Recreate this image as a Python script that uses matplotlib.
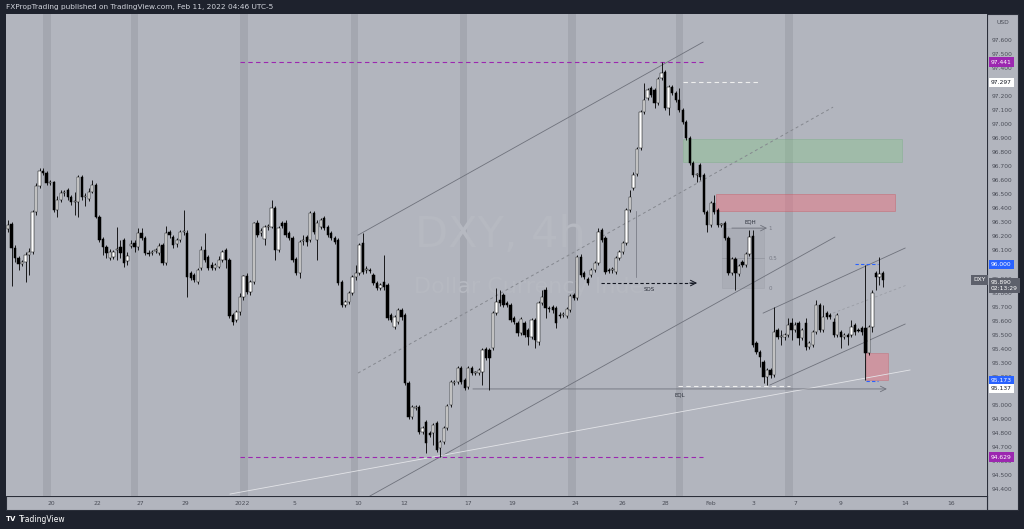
import matplotlib
matplotlib.use("Agg")
import matplotlib.pyplot as plt
import matplotlib.transforms as mtransforms
from matplotlib.patches import Rectangle
import numpy as np

# DXY 4h candles (oldest first)
opens = [96.252, 96.288, 96.117, 96.046, 96.003, 96.017, 96.067, 96.088, 96.373, 96.558,
         96.665, 96.651, 96.580, 96.587, 96.387, 96.459, 96.508, 96.530, 96.480, 96.444,
         96.444, 96.622, 96.480, 96.466, 96.516, 96.565, 96.338, 96.181, 96.124, 96.046,
         96.053, 96.103, 96.124, 96.174, 96.024, 96.131, 96.153, 96.124, 96.224, 96.188,
         96.081, 96.081, 96.096, 96.081, 96.138, 96.010, 96.231, 96.195, 96.145, 96.174,
         96.231, 96.224, 95.939, 95.925, 95.875, 95.975, 96.103, 96.053, 95.996, 95.975,
         95.982, 96.032, 96.103, 96.032, 95.640, 95.605, 95.662, 95.768, 95.918, 95.804,
         95.875, 96.295, 96.224, 96.181, 96.266, 96.266, 96.402, 96.103, 96.295, 96.295,
         96.224, 96.188, 96.039, 95.939, 96.167, 96.195, 96.174, 96.366, 96.174, 96.266,
         96.330, 96.266, 96.224, 96.188, 96.174, 95.875, 95.711, 95.733, 95.797, 95.911,
         95.939, 96.153, 95.960, 95.960, 95.925, 95.868, 95.832, 95.875, 95.854, 95.640,
         95.555, 95.590, 95.676, 95.640, 95.156, 94.914, 94.978, 94.985, 94.808, 94.879,
         94.800, 94.800, 94.872, 94.694, 94.736, 94.836, 95.000, 95.156, 95.163, 95.263,
         95.178, 95.128, 95.263, 95.227, 95.227, 95.234, 95.398, 95.391, 95.405, 95.654,
         95.747, 95.783, 95.726, 95.711, 95.619, 95.583, 95.512, 95.583, 95.533, 95.484,
         95.605, 95.448, 95.726, 95.818, 95.690, 95.697, 95.690, 95.640, 95.640, 95.633,
         95.676, 95.783, 95.761, 96.053, 95.939, 95.896, 95.925, 95.960, 96.010, 96.245,
         96.188, 95.960, 95.960, 95.946, 96.046, 96.088, 96.153, 96.387, 96.544, 96.644,
         96.829, 97.085, 97.184, 97.256, 97.241, 97.149, 97.327, 97.370, 97.113, 97.263,
         97.220, 97.170, 97.099, 97.014, 96.900, 96.722, 96.637, 96.708, 96.637, 96.373,
         96.281, 96.437, 96.387, 96.281, 96.295, 96.188, 95.939, 96.039, 95.932, 96.017,
         95.996, 96.074, 96.202, 95.441, 95.377, 95.306, 95.199, 95.249, 95.213, 95.533,
         95.484, 95.484, 95.498, 95.583, 95.533, 95.583, 95.477, 95.583, 95.413, 95.427,
         95.519, 95.711, 95.533, 95.654, 95.640, 95.590, 95.498, 95.519, 95.484, 95.498,
         95.498, 95.569, 95.533, 95.548, 95.548, 95.370, 95.555, 95.939, 95.911, 95.939]
highs = [96.316, 96.302, 96.138, 96.060, 96.032, 96.088, 96.117, 96.387, 96.580, 96.686,
         96.686, 96.665, 96.601, 96.594, 96.487, 96.530, 96.530, 96.544, 96.494, 96.516,
         96.637, 96.637, 96.508, 96.544, 96.601, 96.580, 96.352, 96.195, 96.138, 96.110,
         96.103, 96.266, 96.174, 96.188, 96.088, 96.174, 96.174, 96.259, 96.259, 96.202,
         96.103, 96.103, 96.117, 96.153, 96.153, 96.274, 96.245, 96.209, 96.188, 96.245,
         96.387, 96.245, 95.953, 95.939, 95.975, 96.131, 96.224, 96.067, 96.017, 96.010,
         96.060, 96.103, 96.117, 96.046, 95.654, 95.676, 95.797, 95.925, 95.939, 95.889,
         96.302, 96.316, 96.259, 96.281, 96.288, 96.459, 96.416, 96.274, 96.309, 96.316,
         96.238, 96.202, 96.053, 96.174, 96.209, 96.209, 96.380, 96.380, 96.316, 96.330,
         96.345, 96.281, 96.238, 96.202, 96.188, 95.889, 95.747, 95.811, 95.925, 95.996,
         96.153, 96.224, 95.989, 95.975, 95.939, 95.882, 95.868, 96.067, 95.868, 95.654,
         95.640, 95.690, 95.690, 95.654, 95.170, 95.000, 95.000, 95.000, 94.850, 94.893,
         94.815, 94.872, 94.886, 94.751, 94.850, 95.007, 95.178, 95.178, 95.277, 95.277,
         95.192, 95.277, 95.277, 95.241, 95.263, 95.405, 95.413, 95.405, 95.669, 95.832,
         95.818, 95.797, 95.740, 95.726, 95.633, 95.597, 95.626, 95.597, 95.548, 95.619,
         95.619, 95.740, 95.818, 95.839, 95.704, 95.711, 95.704, 95.662, 95.662, 95.697,
         95.790, 95.797, 96.067, 96.074, 95.953, 95.911, 95.975, 96.024, 96.259, 96.259,
         96.202, 95.975, 95.982, 96.060, 96.103, 96.167, 96.402, 96.530, 96.658, 96.836,
         97.099, 97.291, 97.256, 97.270, 97.256, 97.334, 97.441, 97.384, 97.277, 97.277,
         97.234, 97.256, 97.113, 97.028, 96.914, 96.736, 96.651, 96.722, 96.651, 96.387,
         96.451, 96.494, 96.402, 96.295, 96.309, 96.202, 96.053, 96.053, 96.003, 96.032,
         96.088, 96.245, 96.245, 95.455, 95.391, 95.320, 95.263, 95.263, 95.697, 95.548,
         95.533, 95.512, 95.619, 95.619, 95.590, 95.597, 95.548, 95.619, 95.455, 95.533,
         95.747, 95.726, 95.711, 95.669, 95.654, 95.619, 95.654, 95.533, 95.512, 95.512,
         95.605, 95.583, 95.548, 95.562, 95.996, 95.569, 95.818, 95.953, 96.053, 95.953]
lows = [96.231, 95.847, 96.017, 95.960, 95.989, 95.875, 95.925, 96.074, 96.352, 96.544,
        96.637, 96.565, 96.565, 96.373, 96.338, 96.444, 96.487, 96.459, 96.423, 96.352,
        96.338, 96.459, 96.416, 96.451, 96.508, 96.330, 96.160, 96.067, 96.046, 96.032,
        96.039, 96.032, 96.046, 95.982, 95.996, 96.117, 96.088, 96.103, 96.174, 96.067,
        96.060, 96.067, 96.081, 96.067, 95.996, 95.996, 96.188, 96.117, 96.124, 96.160,
        96.209, 95.768, 95.889, 95.875, 95.861, 95.960, 96.017, 95.960, 95.960, 95.960,
        95.975, 96.017, 95.975, 95.619, 95.569, 95.590, 95.640, 95.747, 95.790, 95.783,
        95.861, 96.195, 96.202, 96.138, 96.245, 96.259, 96.032, 96.088, 96.259, 96.195,
        96.174, 96.017, 95.925, 95.904, 96.138, 96.131, 96.160, 96.217, 96.032, 96.252,
        96.245, 96.195, 96.174, 96.145, 95.854, 95.697, 95.697, 95.719, 95.783, 95.889,
        95.925, 95.932, 95.939, 95.939, 95.854, 95.818, 95.818, 95.818, 95.605, 95.590,
        95.541, 95.576, 95.605, 95.142, 94.900, 94.900, 94.964, 94.793, 94.793, 94.658,
        94.772, 94.715, 94.665, 94.630, 94.722, 94.822, 94.985, 95.142, 95.149, 95.149,
        95.106, 95.114, 95.213, 95.213, 95.213, 95.142, 95.320, 95.106, 95.391, 95.640,
        95.704, 95.697, 95.697, 95.590, 95.576, 95.491, 95.498, 95.484, 95.427, 95.469,
        95.405, 95.427, 95.711, 95.619, 95.662, 95.654, 95.548, 95.619, 95.626, 95.619,
        95.662, 95.747, 95.747, 95.911, 95.896, 95.854, 95.911, 95.946, 95.996, 96.160,
        95.932, 95.939, 95.939, 95.932, 96.032, 96.074, 96.138, 96.373, 96.530, 96.630,
        96.814, 97.071, 97.170, 97.192, 97.113, 97.135, 97.313, 97.099, 97.064, 97.206,
        97.156, 97.085, 96.999, 96.886, 96.708, 96.622, 96.587, 96.601, 96.359, 96.231,
        96.266, 96.359, 96.266, 96.266, 96.174, 95.925, 95.925, 95.818, 95.918, 95.982,
        95.982, 96.060, 95.413, 95.363, 95.270, 95.156, 95.142, 95.192, 95.199, 95.469,
        95.427, 95.462, 95.484, 95.462, 95.519, 95.427, 95.462, 95.391, 95.398, 95.413,
        95.505, 95.519, 95.519, 95.612, 95.612, 95.484, 95.484, 95.405, 95.469, 95.427,
        95.484, 95.498, 95.519, 95.498, 95.178, 95.356, 95.519, 95.818, 95.854, 95.839]
closes = [96.281, 96.117, 96.046, 96.003, 96.017, 96.067, 96.088, 96.373, 96.558, 96.665,
          96.651, 96.580, 96.587, 96.387, 96.459, 96.508, 96.516, 96.480, 96.444, 96.451,
          96.622, 96.480, 96.487, 96.516, 96.565, 96.338, 96.174, 96.124, 96.081, 96.088,
          96.088, 96.110, 96.081, 96.010, 96.060, 96.145, 96.124, 96.224, 96.188, 96.081,
          96.074, 96.088, 96.103, 96.131, 96.010, 96.224, 96.209, 96.138, 96.174, 96.231,
          96.238, 95.911, 95.904, 95.889, 95.960, 96.103, 96.032, 95.975, 95.975, 95.996,
          96.032, 96.088, 96.032, 95.633, 95.590, 95.662, 95.768, 95.918, 95.804, 95.875,
          96.295, 96.209, 96.238, 96.266, 96.274, 96.402, 96.103, 96.259, 96.274, 96.209,
          96.188, 96.032, 95.939, 96.160, 96.174, 96.160, 96.366, 96.231, 96.295, 96.316,
          96.259, 96.209, 96.188, 96.160, 95.868, 95.711, 95.733, 95.797, 95.911, 95.939,
          96.138, 95.946, 95.968, 95.953, 95.868, 95.832, 95.854, 95.839, 95.619, 95.605,
          95.626, 95.676, 95.626, 95.156, 94.914, 94.985, 94.985, 94.808, 94.836, 94.729,
          94.786, 94.857, 94.680, 94.736, 94.836, 94.993, 95.163, 95.163, 95.263, 95.163,
          95.121, 95.263, 95.227, 95.234, 95.249, 95.391, 95.334, 95.334, 95.654, 95.733,
          95.726, 95.711, 95.711, 95.605, 95.590, 95.512, 95.612, 95.498, 95.484, 95.605,
          95.462, 95.726, 95.768, 95.690, 95.683, 95.676, 95.583, 95.633, 95.647, 95.683,
          95.775, 95.761, 96.053, 95.925, 95.911, 95.868, 95.960, 96.010, 96.231, 96.174,
          95.946, 95.953, 95.968, 96.046, 96.088, 96.153, 96.387, 96.480, 96.637, 96.822,
          97.085, 97.170, 97.241, 97.206, 97.149, 97.320, 97.362, 97.113, 97.263, 97.220,
          97.170, 97.099, 97.014, 96.900, 96.722, 96.637, 96.644, 96.622, 96.373, 96.281,
          96.437, 96.373, 96.281, 96.288, 96.188, 95.939, 96.039, 95.939, 95.989, 95.996,
          96.074, 96.195, 95.427, 95.377, 95.341, 95.199, 95.249, 95.213, 95.519, 95.484,
          95.491, 95.498, 95.569, 95.533, 95.569, 95.477, 95.533, 95.413, 95.441, 95.519,
          95.711, 95.533, 95.626, 95.626, 95.626, 95.498, 95.640, 95.484, 95.498, 95.484,
          95.555, 95.519, 95.526, 95.519, 95.370, 95.555, 95.797, 95.911, 95.932, 95.889]

date_ticks = [12.2, 25.3, 37.6, 50.4, 66.6, 81.4, 99.6, 112.7, 130.9, 143.4,
              161.4, 174.7, 187.0, 200.1, 212.0, 224.0, 237.0, 255.3, 268.4]
date_labels = ["20", "22", "27", "29", "2022", "5", "10", "12", "17", "19",
               "24", "26", "28", "Feb", "3", "7", "9", "14", "16"]
weekend_bars = [11.0, 36.0, 67.2, 98.6, 129.6, 160.4, 191.1, 222.3]

W, H = 1024, 529
BG = "#1e222d"
PANE = "#b2b5be"
AXTXT = "#4a4d57"


def box(x0, y0, x1, y1):
    return [x0 / W, 1 - y1 / H, (x1 - x0) / W, (y1 - y0) / H]


fig = plt.figure(figsize=(W / 100, H / 100), dpi=100, facecolor=BG)

# axis strips
ax_r = fig.add_axes(box(987, 14, 1018, 510), zorder=0)
ax_b = fig.add_axes(box(6, 496, 987, 510), zorder=0)
for a in (ax_r, ax_b):
    a.set_facecolor(PANE)
    a.set_xticks([])
    a.set_yticks([])
    for s in a.spines.values():
        s.set_color("#2a2e39")
        s.set_linewidth(0.8)

ax = fig.add_axes(box(6, 14, 987, 496), zorder=1)
ax.set_facecolor(PANE)
for s in ax.spines.values():
    s.set_visible(False)
ax.set_xlim(-0.57, 278.6)
ax.set_ylim(94.352, 97.783)

for c in weekend_bars:
    ax.axvspan(c - 1.1, c + 1.1, color="#a4a7b0", lw=0, zorder=0)

# watermark
ax.text(140, 96.21, "DXY, 4h", fontsize=31, color="#b6b9c1", ha="center", va="center", zorder=0.5)
ax.text(150, 95.84, "Dollar Currency Index", fontsize=16, color="#b6b9c1", ha="center", va="center", zorder=0.5)

# zones
ax.add_patch(Rectangle((192.1, 96.729), 62.3, 0.164, fc="#81c784", alpha=0.35, ec="#6aa878", lw=0.6, zorder=1))
ax.add_patch(Rectangle((201.5, 96.380), 50.9, 0.121, fc="#ef6f7d", alpha=0.45, ec="#c8545f", lw=0.6, zorder=1))
ax.add_patch(Rectangle((244.2, 95.178), 6.2, 0.192, fc="#ef6f7d", alpha=0.45, ec="#c8545f", lw=0.5, zorder=1))
ax.add_patch(Rectangle((203.2, 95.832), 11.9, 0.427, fc="#9598a1", alpha=0.25, ec="#8a8d96", lw=0.6, zorder=1))
ax.plot([203.2, 215.1], [96.046, 96.046], color="#8a8d96", lw=0.4, zorder=1)
for lv, lab in [(96.259, "1"), (96.046, "0.5"), (95.832, "0")]:
    ax.text(216.5, lv, lab, fontsize=4, color="#787b86", va="center")

# trend / channel lines
ax.plot([99.6, 197.8], [96.209, 97.583], color="#6f727c", lw=0.6, zorder=1)
ax.plot([99.6, 234.8], [95.227, 97.120], color="#85888f", lw=0.7, ls=(0, (3, 3)), zorder=1)
ax.plot([103.0, 235.3], [94.352, 96.195], color="#6f727c", lw=0.6, zorder=1)
ax.plot([63.2, 256.7], [94.366, 95.249], color="#e3e4e8", lw=0.6, zorder=1)
ax.plot([214.9, 255.3], [95.654, 96.117], color="#6f727c", lw=0.6, zorder=1)
ax.plot([216.8, 255.3], [95.142, 95.576], color="#6f727c", lw=0.6, zorder=1)
ax.plot([234.8, 255.8], [95.654, 95.854], color="#9a9da5", lw=0.6, ls=(0, (3, 3)), zorder=1)
ax.plot([178.7, 178.7], [95.911, 96.380], color="#6f727c", lw=0.5, zorder=1)

# horizontal levels
ax.plot([66.0, 197.8], [97.441, 97.441], color="#9c27b0", lw=0.8, ls=(0, (4, 3)), zorder=1)
ax.plot([66.0, 197.8], [94.629, 94.629], color="#9c27b0", lw=0.8, ls=(0, (4, 3)), zorder=1)
ax.plot([192.1, 214.0], [97.297, 97.297], color="#eeeeee", lw=0.8, ls=(0, (4, 3)), zorder=1)
ax.plot([190.7, 222.5], [95.137, 95.137], color="#eeeeee", lw=0.8, ls=(0, (4, 3)), zorder=1)
ax.plot([241.0, 247.6], [96.000, 96.000], color="#2962ff", lw=0.8, ls=(0, (3, 2)), zorder=1)
ax.plot([244.2, 247.6], [95.173, 95.173], color="#2962ff", lw=0.8, ls=(0, (3, 2)), zorder=1)

# EQL / EQH / SOS markers
ax.annotate("", xy=(250.1, 95.114), xytext=(132.3, 95.114),
            arrowprops=dict(arrowstyle="->", color="#6f727c", lw=0.6, shrinkA=0, shrinkB=0), zorder=1)
ax.text(191.2, 95.071, "EQL", fontsize=4, color="#2a2e39", ha="center", va="center")
ax.annotate("", xy=(216.0, 96.259), xytext=(206.0, 96.259),
            arrowprops=dict(arrowstyle="->", color="#6f727c", lw=0.6, shrinkA=0, shrinkB=0), zorder=1)
ax.text(211.2, 96.302, "EQH", fontsize=4, color="#2a2e39", ha="center", va="center")
ax.plot([168.8, 195.6], [95.868, 95.868], color="#131722", lw=0.8, ls=(0, (3, 2)), zorder=1)
ax.annotate("", xy=(196.1, 95.868), xytext=(194.0, 95.868),
            arrowprops=dict(arrowstyle="->", color="#131722", lw=0.7, shrinkA=0, shrinkB=0), zorder=1)
ax.text(182.4, 95.825, "SOS", fontsize=4, color="#2a2e39", ha="center", va="center")

# candles
x = np.arange(len(closes))
for i in x:
    o, h, l, c = opens[i], highs[i], lows[i], closes[i]
    ax.vlines(i, l, h, color="black", lw=0.6, zorder=2)
    up = c >= o
    ax.bar(i, max(abs(c - o), 0.005), bottom=min(o, c), width=0.66,
           color="white" if up else "black", edgecolor="black", linewidth=0.35, zorder=3)

# price scale
ax.yaxis.tick_right()
yt = np.round(np.arange(94.4, 97.65, 0.1), 1)
ax.set_yticks(yt)
ax.set_yticklabels([f"{v:.3f}" for v in yt])
ax.tick_params(axis="y", length=0, pad=3.5, labelsize=4.3, labelcolor=AXTXT)
ax.set_xticks(date_ticks)
ax.set_xticklabels(date_labels)
ax.tick_params(axis="x", length=0, pad=3.5, labelsize=4.3, labelcolor=AXTXT)

tr = mtransforms.blended_transform_factory(ax.transAxes, ax.transData)
badges = [(97.441, "97.441", "#9c27b0", "white"),
          (97.297, "97.297", "white", "#131722"),
          (96.000, "96.000", "#2962ff", "white"),
          (95.175, "95.173", "#2962ff", "white"),
          (95.118, "95.137", "white", "#131722"),
          (94.629, "94.629", "#9c27b0", "white")]
for y, lab, fc, tc in badges:
    ax.text(1.004, y, lab, transform=tr, fontsize=4.3, color=tc, va="center", ha="left",
            bbox=dict(boxstyle="square,pad=0.35", fc=fc, ec="none"), clip_on=False, zorder=5)
ax.text(1.004, 95.85, "95.890\n02:13:29", transform=tr, fontsize=4.3, color="white",
        va="center", ha="left", linespacing=1.1,
        bbox=dict(boxstyle="square,pad=0.35", fc="#5d606b", ec="none"), clip_on=False, zorder=5)
ax.text(0.9985, 95.890, "DXY", transform=tr, fontsize=4.3, color="white", va="center", ha="right",
        bbox=dict(boxstyle="square,pad=0.35", fc="#5d606b", ec="none"), clip_on=False, zorder=5)
fig.text(1003 / W, 1 - 22 / H, "USD", fontsize=4.3, color=AXTXT, ha="center", va="center")

# header / footer
fig.text(6 / W, 1 - 7 / H, "FXPropTrading published on TradingView.com, Feb 11, 2022 04:46 UTC-5",
         fontsize=5.3, color="#d1d4dc", ha="left", va="center")
fig.text(6 / W, 1 - 519 / H, "TV", fontsize=5, color="white", weight="bold", ha="left", va="center")
fig.text(19 / W, 1 - 519 / H, "TradingView", fontsize=5.5, color="white", ha="left", va="center")

fig.savefig("out.png", dpi=100, facecolor=BG)
